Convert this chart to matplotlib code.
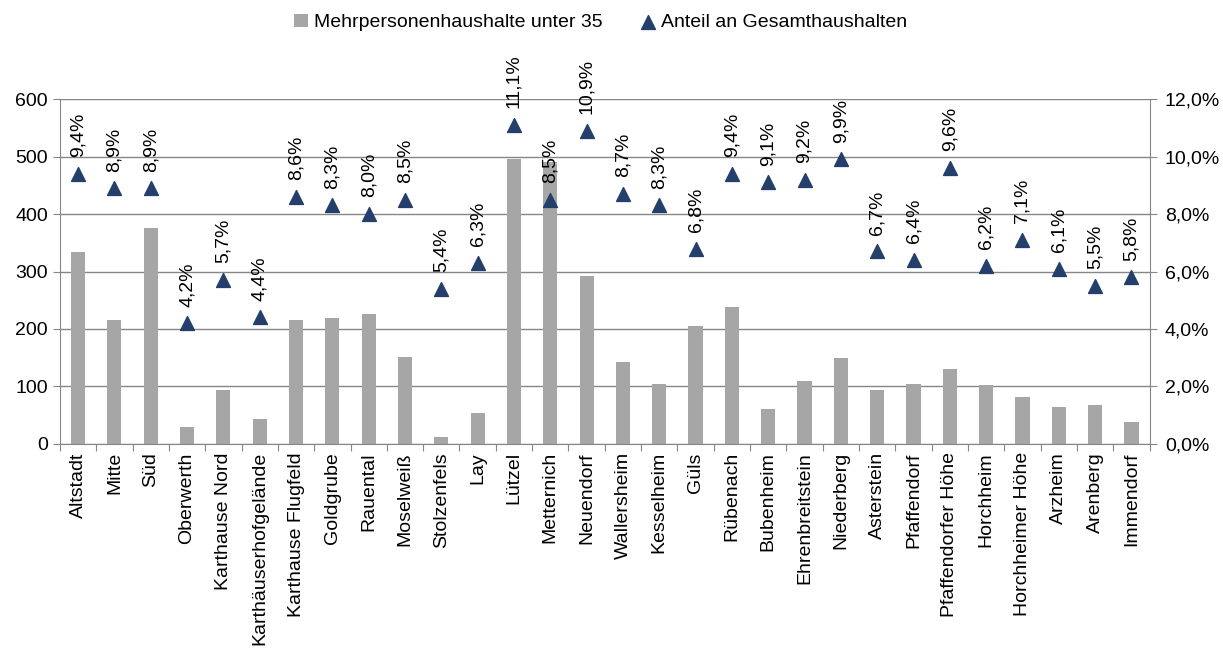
import matplotlib.pyplot as plt
import numpy as np
from matplotlib.ticker import FuncFormatter

plt.rcParams['font.family'] = ['Liberation Sans', 'DejaVu Sans']

stadtteile = ["Altstadt", "Mitte", "Süd", "Oberwerth", "Karthause Nord",
              "Karthäuserhofgelände", "Karthause Flugfeld", "Goldgrube", "Rauental",
              "Moselweiß", "Stolzenfels", "Lay", "Lützel", "Metternich", "Neuendorf",
              "Wallersheim", "Kesselheim", "Güls", "Rübenach", "Bubenheim",
              "Ehrenbreitstein", "Niederberg", "Asterstein", "Pfaffendorf",
              "Pfaffendorfer Höhe", "Horchheim", "Horchheimer Höhe", "Arzheim",
              "Arenberg", "Immendorf"]
haushalte = [334, 216, 375, 29, 93, 43, 216, 219, 226, 152, 12, 54, 496, 490, 292,
             142, 105, 206, 239, 61, 109, 150, 93, 105, 130, 102, 81, 64, 67, 38]
anteil = [9.4, 8.9, 8.9, 4.2, 5.7, 4.4, 8.6, 8.3, 8.0, 8.5, 5.4, 6.3, 11.1, 8.5, 10.9,
          8.7, 8.3, 6.8, 9.4, 9.1, 9.2, 9.9, 6.7, 6.4, 9.6, 6.2, 7.1, 6.1, 5.5, 5.8]

grau = "#868686"
fs = 14

fig = plt.figure(figsize=(12.23, 6.48), dpi=100)
ax = fig.add_axes([0.049, 0.315, 0.891, 0.532])
ax2 = ax.twinx()

x = np.arange(len(stadtteile))
bars = ax.bar(x, haushalte, width=0.39, color="#a6a6a6", zorder=2,
              label="Mehrpersonenhaushalte unter 35")
ax.set_ylim(0, 600)
ax.set_xlim(-0.5, len(stadtteile) - 0.5)
ax.set_yticks(range(0, 601, 100))
ax.yaxis.grid(True, color=grau, linewidth=1)
ax.set_axisbelow(True)

ax2.set_ylim(0, 12)
ax2.set_yticks(range(0, 13, 2))
ax2.yaxis.set_major_formatter(FuncFormatter(lambda v, p: f"{v:.1f}%".replace(".", ",")))
tri = ax2.scatter(x, anteil, marker="^", s=100, color="#243f6b", zorder=3,
                  label="Anteil an Gesamthaushalten")
for xi, v in zip(x, anteil):
    ax2.annotate(f"{v:.1f}%".replace(".", ","), (xi, v), xytext=(0, 12),
                 textcoords="offset points", rotation=90, ha="center", va="bottom",
                 fontsize=fs, annotation_clip=False)

# Trennstriche zwischen den Kategorien, Beschriftung mittig
ax.set_xticks(np.arange(-0.5, len(stadtteile), 1))
ax.set_xticklabels([])
ax.set_xticks(x, minor=True)
ax.set_xticklabels(stadtteile, minor=True, rotation=90, fontsize=fs)
ax.tick_params(axis="x", which="minor", length=0, pad=6)
ax.tick_params(axis="x", which="major", length=5, color=grau, direction="out")
ax.tick_params(axis="y", length=5, color=grau, labelsize=fs)
ax2.tick_params(axis="y", length=5, color=grau, labelsize=fs, pad=6)

ax.spines["top"].set_visible(False)
ax.spines["right"].set_visible(False)
ax.spines["left"].set_color(grau)
ax.spines["bottom"].set_color(grau)
ax2.spines["top"].set_visible(False)
ax2.spines["left"].set_visible(False)
ax2.spines["bottom"].set_visible(False)
ax2.spines["right"].set_color(grau)

fig.legend(handles=[bars, tri], loc="upper center", bbox_to_anchor=(0.491, 1.006),
           ncol=2, frameon=False, fontsize=fs, handlelength=0.7, handletextpad=0.3,
           columnspacing=2.0)

fig.savefig("out.png", dpi=100)
